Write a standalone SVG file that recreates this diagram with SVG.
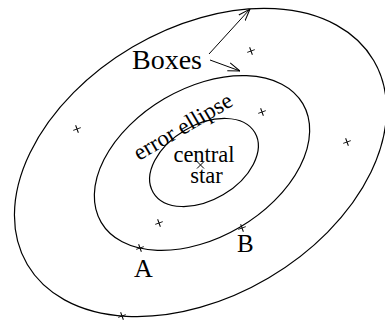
<svg xmlns="http://www.w3.org/2000/svg" width="385" height="323" viewBox="0 0 385 323">
<style>
.el{fill:none;stroke:#000;stroke-width:1.2}
.cr{stroke:#000;stroke-width:1;fill:none}
.ar{stroke:#000;stroke-width:1;fill:none}
text{font-family:"Liberation Serif","Times New Roman",serif;fill:#000}
</style>
<defs>
<marker id="ah" viewBox="0 0 12 10" refX="12" refY="5" markerWidth="12" markerHeight="10" markerUnits="userSpaceOnUse" orient="auto">
<path d="M0,0.8 L12,5 L0,9.2" fill="none" stroke="#000" stroke-width="1"/>
</marker>
<path id="cross" d="M-4,0 H4 M0,-4 V4" transform="rotate(-20)"/>
</defs>
<g id="outer-ellipse"><ellipse class="el" cx="200.5" cy="162.5" rx="201" ry="134" transform="rotate(-30.5 200.5 162.5)"/></g>
<g id="middle-ellipse"><ellipse class="el" cx="202" cy="163" rx="117" ry="74.5" transform="rotate(-30.5 202 163)"/></g>
<g id="inner-ellipse"><ellipse class="el" cx="204" cy="162.5" rx="59" ry="37.5" transform="rotate(-30.5 204 162.5)"/></g>
<g id="boxes-label"><text x="132" y="68.5" font-size="28">Boxes</text></g>
<g id="error-ellipse-label"><text x="139" y="161" font-size="23" transform="rotate(-30.5 139 161)">error ellipse</text></g>
<g id="central-star"><text x="204" y="162" font-size="22.5" text-anchor="middle">central</text><text x="206.5" y="183" font-size="22.5" text-anchor="middle">star</text>
<path class="cr" d="M197,161.5 L204,168.5 M204,161.5 L197,168.5"/></g>
<g id="label-A"><text x="134" y="277" font-size="26">A</text></g>
<g id="label-B"><text x="237" y="252" font-size="25">B</text></g>
<g id="boxes" class="cr">
<use href="#cross" x="251" y="51"/>
<use href="#cross" x="77" y="129"/>
<use href="#cross" x="262" y="112"/>
<use href="#cross" x="347" y="142"/>
<use href="#cross" x="159" y="223"/>
<use href="#cross" x="242" y="228"/>
<use href="#cross" x="140" y="248"/>
<use href="#cross" x="122" y="316"/>
</g>
<g id="connectors">
<line class="ar" x1="209" y1="54" x2="250" y2="9" marker-end="url(#ah)"/>
<line class="ar" x1="210" y1="60" x2="240" y2="71" marker-end="url(#ah)"/>
</g>
</svg>
